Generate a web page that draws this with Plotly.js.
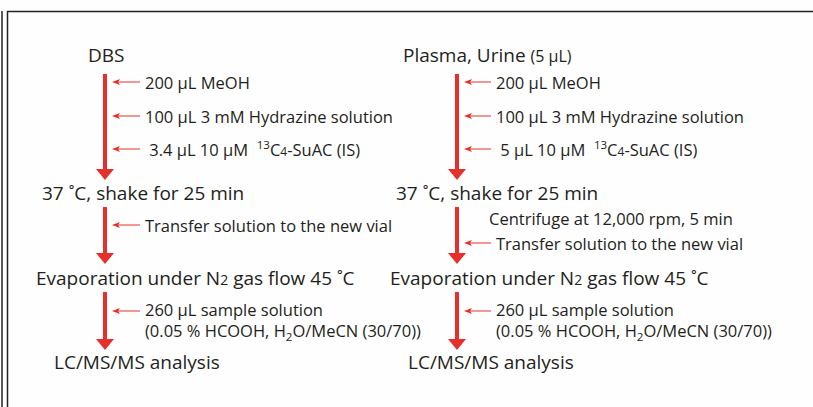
<!DOCTYPE html>
<html><head><meta charset="utf-8">
<script src="https://cdn.plot.ly/plotly-3.0.1.min.js"></script>
<style>html,body{margin:0;padding:0;background:#fff}</style>
</head><body>
<div id="chart" style="width:813px;height:407px"></div>
<script>
// ---- content ----
const leftSteps = ["DBS", "37 ˚C, shake for 25 min", "Evaporation under N<span style='font-size:14px'>2</span> gas flow 45 ˚C", "LC/MS/MS analysis"];
const rightSteps = ["Plasma, Urine <span style='font-size:16px'>(5 µL)</span>", "37 ˚C, shake for 25 min", "Evaporation under N<span style='font-size:14px'>2</span> gas flow 45 ˚C", "LC/MS/MS analysis"];
const leftReagents = [
  ["200 µL MeOH", "100 µL 3 mM Hydrazine solution", " 3.4 µL 10 µM  <sup>13</sup>C<span style='font-size:12px'>4</span>-SuAC (IS)"],
  ["Transfer solution to the new vial"],
  ["260 µL sample solution<br>(0.05 % HCOOH, H<sub>2</sub>O/MeCN (30/70))"]
];
const rightReagents = [
  ["200 µL MeOH", "100 µL 3 mM Hydrazine solution", " 5 µL 10 µM  <sup>13</sup>C<span style='font-size:12px'>4</span>-SuAC (IS)"],
  ["Transfer solution to the new vial"],
  ["260 µL sample solution<br>(0.05 % HCOOH, H<sub>2</sub>O/MeCN (30/70))"]
];
const rightNotes = [[], ["Centrifuge at 12,000 rpm, 5 min"], []];

// ---- layout geometry ----
const FONT = "'Open Sans', sans-serif";
const TXT = "#231f20", RED = "#e6302b";
const stepY = [55, 193, 278, 362];
const leftStepX = [86, 40, 34, 52];
const rightStepX = [401, 394, 388, 406];
const segY = [[74, 180], [207, 264], [292, 350]];
const leftReagY = [[82, 116, 149], [225], [311]];
const rightReagY = [[82, 116, 149], [243], [311]];
const rightNoteY = [[], [218], []];
const cols = [
  {arrowX: 105, stepX: leftStepX, steps: leftSteps, reag: leftReagents, reagY: leftReagY, textX: 143, notes: [[],[],[]], noteY: [[],[],[]]},
  {arrowX: 457, stepX: rightStepX, steps: rightSteps, reag: rightReagents, reagY: rightReagY, textX: 494, notes: rightNotes, noteY: rightNoteY}
];

const annotations = [], shapes = [];
// frame
shapes.push({type:'line', x0:2, x1:2, y0:11, y1:420, line:{color:'#222', width:1.5}});
shapes.push({type:'rect', x0:7.5, x1:830, y0:11.5, y1:430, line:{color:'#222', width:1.5}});

cols.forEach(c => {
  c.steps.forEach((s, i) => {
    annotations.push({x: c.stepX[i], y: stepY[i], xref:'x', yref:'y', text: s, showarrow:false,
      xanchor:'left', yanchor:'middle', font:{family:FONT, size:19, color:TXT}});
  });
  segY.forEach((seg, k) => {
    const [y0, y1] = seg, x = c.arrowX, hl = 11, hw = 9;
    shapes.push({type:'line', x0:x, x1:x, y0:y0, y1:y1 - hl + 1, line:{color:RED, width:4}});
    shapes.push({type:'path', path:`M${x-hw},${y1-hl} L${x+hw},${y1-hl} L${x},${y1} Z`, fillcolor:RED, line:{width:0}});
    c.reag[k].forEach((r, j) => {
      const y = c.reagY[k][j];
      const tip = x + 7, tail = c.textX - 3;
      shapes.push({type:'line', x0:tip+6, x1:tail, y0:y, y1:y, line:{color:RED, width:1}});
      shapes.push({type:'path', path:`M${tip},${y} L${tip+8},${y-3} L${tip+6},${y} L${tip+8},${y+3} Z`, fillcolor:RED, line:{width:0}});
      annotations.push({x: c.textX, y: (r.includes('<br>') ? y + 10 : y), xref:'x', yref:'y', text: r, showarrow:false,
        xanchor:'left', yanchor:'middle', align:'left', font:{family:FONT, size:16.5, color:TXT}});
    });
    c.notes[k].forEach((n, j) => {
      annotations.push({x: c.textX - 7, y: c.noteY[k][j], xref:'x', yref:'y', text: n, showarrow:false,
        xanchor:'left', yanchor:'middle', font:{family:FONT, size:16.5, color:TXT}});
    });
  });
});

const layout = {
  width: 813, height: 407, margin:{l:0, r:0, t:0, b:0},
  paper_bgcolor:'#fefefe', plot_bgcolor:'#fefefe',
  xaxis:{range:[0,813], visible:false, fixedrange:true},
  yaxis:{range:[407,0], visible:false, fixedrange:true},
  showlegend:false, annotations, shapes
};
Plotly.newPlot('chart', [], layout, {displayModeBar:false});
</script>
</body></html>
